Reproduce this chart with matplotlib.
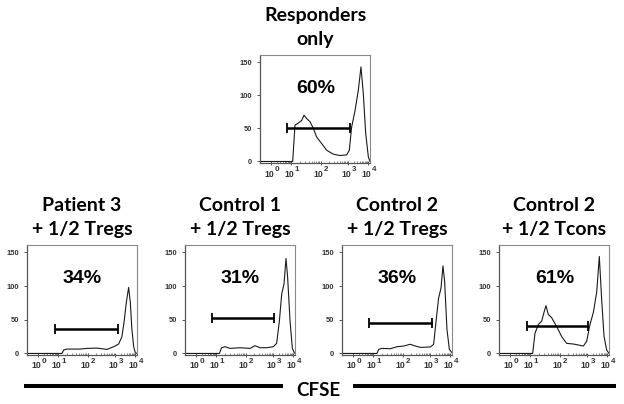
import matplotlib
matplotlib.use('Agg')
import matplotlib.pyplot as plt
import numpy as np

# ---------------- data ----------------
panel_titles = [("Responders", "only"),
                ("Patient 3", "+ 1/2 Tregs"),
                ("Control 1", "+ 1/2 Tregs"),
                ("Control 2", "+ 1/2 Tregs"),
                ("Control 2", "+ 1/2 Tcons")]
percentages = ["60%", "34%", "31%", "36%", "61%"]
gate_start = [0.248, 0.251, 0.243, 0.248, 0.252]
gate_end = [0.818, 0.824, 0.809, 0.818, 0.812]
gate_level = [50, 36, 53, 45, 41]

decade_pos = [0.10, 0.28, 0.55, 0.80, 0.98]
decade_exp = ["0", "1", "2", "3", "4"]
y_ticks = [0, 50, 100, 150]

# histogram curves (x = position on CFSE display axis, y = count)
resp_x = [0.0, 0.297, 0.318, 0.348, 0.379, 0.400, 0.424, 0.455, 0.485, 0.515, 0.561,
          0.606, 0.667, 0.727, 0.788, 0.812, 0.833, 0.864, 0.894, 0.918, 0.939, 0.961,
          0.985, 1.0]
resp_y = [0, 0, 55, 58, 62, 70, 65, 60, 50, 37, 27, 17, 11, 9, 10, 17, 52, 77, 108, 143,
          103, 42, 7, 0]

p3_x = [0.0, 0.318, 0.333, 0.363, 0.485, 0.545, 0.636, 0.727, 0.788, 0.833, 0.863, 0.885,
        0.903, 0.924, 0.939, 0.954, 0.970, 0.985, 1.0]
p3_y = [0, 0, 5, 6.5, 6.5, 7.5, 8, 6, 10, 14, 25, 50, 76, 98, 76, 35, 10, 1, 0]

c1_x = [0.0, 0.312, 0.333, 0.364, 0.409, 0.500, 0.591, 0.636, 0.682, 0.742, 0.803, 0.833,
        0.858, 0.879, 0.900, 0.918, 0.933, 0.955, 0.976, 0.994, 1.0]
c1_y = [0, 0, 8.5, 10, 7.5, 8.5, 7.5, 11.5, 8.5, 8.5, 10, 15, 48, 88, 103, 141, 113, 48,
        7.5, 1, 0]

c2t_x = [0.0, 0.318, 0.333, 0.363, 0.439, 0.500, 0.560, 0.621, 0.667, 0.712, 0.803, 0.833,
         0.857, 0.878, 0.900, 0.918, 0.933, 0.954, 0.976, 1.0]
c2t_y = [0, 0, 6, 7.5, 7, 10, 11, 13.6, 11, 9, 9.6, 13.6, 51, 82, 97, 130, 107, 36, 6, 1]

c2c_x = [0.0, 0.306, 0.327, 0.358, 0.388, 0.409, 0.427, 0.448, 0.479, 0.524, 0.570, 0.615,
         0.676, 0.721, 0.767, 0.797, 0.827, 0.858, 0.888, 0.912, 0.933, 0.955, 0.979, 1.0]
c2c_y = [0, 0, 30, 43, 48, 61, 71, 58, 53, 40, 25, 15, 14, 12.6, 11, 18, 43, 61, 91, 144,
         81, 25, 5, 0]

curves = [(resp_x, resp_y), (p3_x, p3_y), (c1_x, c1_y), (c2t_x, c2t_y), (c2c_x, c2c_y)]

axis_label = "CFSE"

# ---------------- layout ----------------
W, H = 624, 404
fig = plt.figure(figsize=(W / 100, H / 100), dpi=100)

# (left, top, width, height) in pixels
boxes = [(260, 55, 110, 108),
         (27, 245, 110, 110),
         (185, 245, 110, 110),
         (342, 245, 110, 110),
         (499, 245, 110, 110)]
title_base = [(21, 45), (211, 235), (211, 235), (211, 235), (211, 235)]

TITLE_FONT = dict(family=['Lato', 'DejaVu Sans'], weight='bold', size=14, color='black')
TICK_FONT = dict(family=['Liberation Sans'], weight='bold', color='#333333')

minor = []
for k in range(len(decade_pos) - 1):
    for m in range(2, 10):
        minor.append(decade_pos[k] + np.log10(m) * (decade_pos[k + 1] - decade_pos[k]))

for i, (l, t, w, h) in enumerate(boxes):
    ax = fig.add_axes([l / W, (H - t - h) / H, w / W, h / H])
    x, y = curves[i]
    ax.plot(x, y, color='#1a1a1a', lw=0.8, solid_joinstyle='round')
    ax.set_xlim(0, 1)
    ax.set_ylim(-2.3, 161)
    # gate
    ax.plot([gate_start[i], gate_end[i]], [gate_level[i]] * 2, color='black', lw=1.8,
            solid_capstyle='butt')
    ax.plot([gate_start[i], gate_end[i]], [gate_level[i]] * 2, ls='none', marker='|',
            ms=6.5, mew=1.3, color='black')
    ax.text(0.505, 104, percentages[i], ha='center', va='baseline',
            family=['Liberation Sans'], weight='bold', size=14, color='black')
    # axes styling
    for s in ['top', 'right']:
        ax.spines[s].set_color('#8a8a8a')
        ax.spines[s].set_linewidth(0.8)
    for s in ['bottom', 'left']:
        ax.spines[s].set_color('#555555')
        ax.spines[s].set_linewidth(0.9)
    ax.set_xticks(decade_pos)
    ax.set_xticklabels([])
    ax.set_xticks(minor, minor=True)
    ax.set_yticks(y_ticks)
    ax.set_yticklabels([str(v) for v in y_ticks])
    ax.tick_params(axis='x', which='major', direction='inout', length=3, width=0.7,
                   color='#555555')
    ax.tick_params(axis='x', which='minor', direction='in', length=1.5, width=0.5,
                   color='#555555')
    ax.tick_params(axis='y', which='major', direction='out', length=2.5, width=0.7,
                   color='#555555', pad=3, labelsize=5.4, labelcolor='#333333')
    for lab in ax.get_yticklabels():
        lab.set_fontfamily('Liberation Sans')
        lab.set_fontweight('bold')
    # x tick labels: "10" with raised exponent
    ab = t + h
    for p, e in zip(decade_pos, decade_exp):
        px = l + p * w
        fig.text((px + 3) / W, 1 - (ab + 13.5) / H, "10", ha='right', va='baseline',
                 size=6.2, **TICK_FONT)
        fig.text((px + 3.6) / W, 1 - (ab + 8) / H, e, ha='left', va='baseline',
                 size=5.8, **TICK_FONT)
    # titles
    cx = (l + w / 2) / W
    t1, t2 = panel_titles[i]
    fig.text(cx, 1 - title_base[i][0] / H, t1, ha='center', va='baseline', **TITLE_FONT)
    fig.text(cx, 1 - title_base[i][1] / H, t2, ha='center', va='baseline', **TITLE_FONT)

# CFSE bar
line_y = 1 - 386 / H
fig.add_artist(plt.Line2D([24 / W, 283 / W], [line_y, line_y], color='black', lw=2.9,
                          solid_capstyle='butt'))
fig.add_artist(plt.Line2D([353 / W, 616 / W], [line_y, line_y], color='black', lw=2.9,
                          solid_capstyle='butt'))
fig.text(318 / W, 1 - 396 / H, axis_label, ha='center', va='baseline',
         family=['Lato', 'DejaVu Sans'], weight='bold', size=13.5, color='black')

fig.savefig('out.png', dpi=100, facecolor='white')
